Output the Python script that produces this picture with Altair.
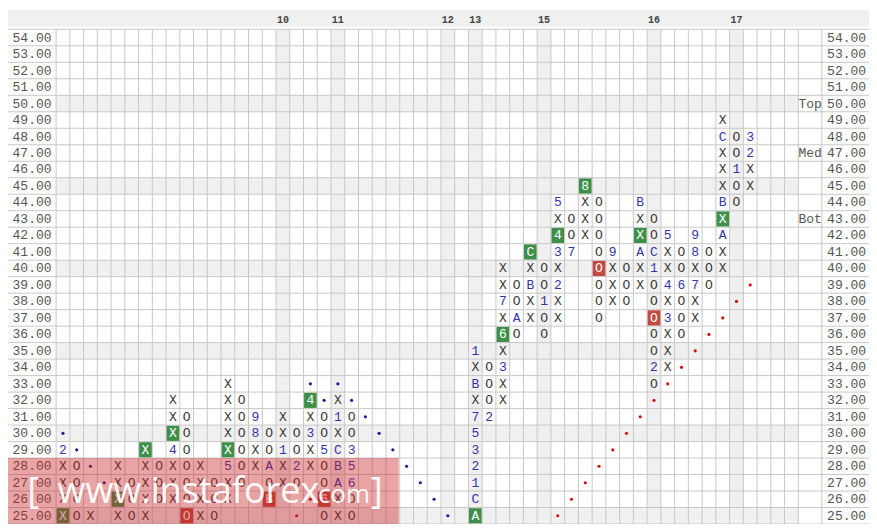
import altair as alt
import pandas as pd

# ---------------- data ----------------
prices = list(range(25, 55))          # price rows 25.00 .. 54.00
n_cols = 54                           # point & figure columns
year_cols = [16, 20, 28, 30, 35, 43, 49]
year_labels = ["10", "11", "12", "13", "15", "16", "17"]
shaded_prices = [25, 30, 35, 40, 45, 50]

# each P&F column: index, lowest price, symbols from bottom to top
col_index = [0, 1, 2, 4, 5, 6, 7, 8, 9, 10, 11, 12, 13, 14, 15, 16, 17, 18, 19, 20, 21,
             30, 31, 32, 33, 34, 35, 36, 37, 38, 39, 40, 41, 42, 43, 44, 45, 46, 47, 48, 49, 50]
col_start = [25, 25, 25, 25, 25, 25, 26, 26, 25, 25, 25, 26, 27, 28, 26, 27, 27, 28, 25, 25, 25,
             25, 31, 32, 36, 37, 36, 37, 41, 42, 37, 38, 38, 39, 33, 34, 36, 37, 39, 40, 44, 45]
col_symbols = ["XXXX2", "OOOO", "X", "XXXX", "OOO", "XXXXX", "OOO", "XXX4XXX", "OOOOOOO",
               "XXXX", "OOO", "XX5XXXXX", "OOOOOO", "XX89", "BOAOO", "XX1XX", "O2OO", "XX3X4",
               "O6OO5OO", "XXABCX1X", "OO653OO",
               "AC12357XBX1", "2OOO", "XX3X6X7XX", "OAOO", "XXBXC", "OO1OO", "XX2X34X5",
               "7OO", "XXX8", "OOOOOOOO", "XXX9", "OOO", "XXAXXB", "O2OOOOO1COO",
               "XXX3X4XX5", "OOO6OO", "XX7X89", "OOO", "XXAXBXXXCX", "OO1OO", "XX23"]

green_box_cols = [0, 4, 6, 8, 12, 18, 30, 32, 34, 36, 38, 42, 48]
green_box_prices = [25, 26, 29, 30, 29, 32, 25, 36, 41, 42, 45, 42, 43]
red_box_cols = [9, 15, 19, 39, 43]
red_box_prices = [25, 26, 26, 40, 37]

blue_dot_cols = [0, 1, 2, 3, 18, 19, 20, 21, 22, 23, 24, 25, 26, 27, 28]
blue_dot_prices = [30, 29, 28, 27, 33, 32, 33, 32, 31, 30, 29, 28, 27, 26, 25]
red_dot_cols = [17, 18, 36, 37, 38, 39, 40, 41, 42, 43, 44, 45, 46, 47, 48, 49, 50]
red_dot_prices = [25, 26, 25, 26, 27, 28, 29, 30, 31, 32, 33, 34, 35, 36, 37, 38, 39]

side_labels = ["Top", "Med", "Bot"]
side_label_prices = [50, 47, 43]

watermark_parts = ["[", "www.instaforex", ".com", "]"]

# ---------------- layout (in column / row units) ----------------
LEFT, RIGHT = -3.5, 59.143
TOPCELL_END = 55.714
Y_BOT, Y_GRID_TOP, Y_TOP = 24.5, 54.5, 55.794

xs = alt.Scale(domain=[LEFT, RIGHT], nice=False, zero=False)
ys = alt.Scale(domain=[Y_BOT, Y_TOP], nice=False, zero=False)

DARK = "#3a3a3a"
BLUE = "#3535a8"
GREEN = "#3f8f4a"
RED = "#c24a40"
GRID = "#c8c8c8"
SHADE = "#f0f0f0"
FONT = "Liberation Mono"

def X(f="x"):
    return alt.X(f"{f}:Q", scale=xs, axis=None)

def Y(f="y"):
    return alt.Y(f"{f}:Q", scale=ys, axis=None)

# header band
header = pd.DataFrame({"x": [LEFT], "x2": [RIGHT], "y": [54.676], "y2": [55.68]})
header_l = alt.Chart(header).mark_rect(color=SHADE).encode(
    x=X(), x2="x2", y=Y(), y2="y2")

# shaded rows and columns
srows = pd.DataFrame({"x": 0, "x2": n_cols,
                      "y": [p - 0.5 for p in shaded_prices], "y2": [p + 0.5 for p in shaded_prices]})
srows_l = alt.Chart(srows).mark_rect(color=SHADE).encode(x=X(), x2="x2", y=Y(), y2="y2")
scols = pd.DataFrame({"x": year_cols, "x2": [c + 1 for c in year_cols],
                      "y": Y_BOT, "y2": Y_GRID_TOP})
scols_l = alt.Chart(scols).mark_rect(color=SHADE).encode(x=X(), x2="x2", y=Y(), y2="y2")

# grid lines
vlines = pd.DataFrame({"x": list(range(0, n_cols + 1)) + [TOPCELL_END], "y": Y_BOT, "y2": Y_GRID_TOP})
vlines_l = alt.Chart(vlines).mark_rule(color=GRID, strokeWidth=1).encode(x=X(), y=Y(), y2="y2")
hlines = pd.DataFrame({"y": [p - 0.5 for p in prices] + [prices[-1] + 0.5], "x": LEFT, "x2": RIGHT})
hlines_l = alt.Chart(hlines).mark_rule(color=GRID, strokeWidth=1).encode(y=Y(), x=X(), x2="x2")

# coloured boxes
boxes = pd.DataFrame({
    "c": green_box_cols + red_box_cols,
    "p": green_box_prices + red_box_prices,
    "fill": [GREEN] * len(green_box_cols) + [RED] * len(red_box_cols),
})
boxes["x"] = boxes["c"] + 0.04
boxes["x2"] = boxes["c"] + 0.96
boxes["y"] = boxes["p"] - 0.46
boxes["y2"] = boxes["p"] + 0.46
boxes_l = alt.Chart(boxes).mark_rect().encode(
    x=X(), x2="x2", y=Y(), y2="y2", color=alt.Color("fill:N", scale=None))

# cell symbols
box_set = set(zip(green_box_cols + red_box_cols, green_box_prices + red_box_prices))
recs = []
for ci, start, sym in zip(col_index, col_start, col_symbols):
    for k, ch in enumerate(sym):
        p = start + k
        if (ci, p) in box_set:
            col = "#ffffff"
        elif ch in "XO":
            col = DARK
        else:
            col = BLUE
        recs.append({"x": ci + 0.5, "y": p, "t": ch, "col": col})
cells = pd.DataFrame(recs)
cells_l = alt.Chart(cells).mark_text(font=FONT, fontSize=13, baseline="middle", align="center").encode(
    x=X(), y=Y(), text="t:N", color=alt.Color("col:N", scale=None))

# trend-line dots
dots = pd.DataFrame({
    "x": [c + 0.5 for c in blue_dot_cols + red_dot_cols],
    "y": blue_dot_prices + red_dot_prices,
    "col": ["#1a1a9a"] * len(blue_dot_cols) + ["#d01010"] * len(red_dot_cols),
})
dots_l = alt.Chart(dots).mark_circle(size=10, opacity=1).encode(
    x=X(), y=Y(), color=alt.Color("col:N", scale=None))

# price labels left and right
lab = pd.DataFrame({"y": prices, "t": [f"{p:.2f}" for p in prices]})
lab["xl"] = LEFT + 0.33
lab["xr"] = TOPCELL_END + 0.38
left_l = alt.Chart(lab).mark_text(font=FONT, fontSize=13, align="left", baseline="middle",
                                   color="#555555").encode(x=X("xl"), y=Y(), text="t:N")
right_l = alt.Chart(lab).mark_text(font=FONT, fontSize=13, align="left", baseline="middle",
                                    color="#555555").encode(x=X("xr"), y=Y(), text="t:N")

# Top / Med / Bot
side = pd.DataFrame({"x": (n_cols + TOPCELL_END) / 2, "y": side_label_prices, "t": side_labels})
side_l = alt.Chart(side).mark_text(font=FONT, fontSize=13, align="center", baseline="middle",
                                    color="#555555").encode(x=X(), y=Y(), text="t:N")

# year labels in header
yl = pd.DataFrame({"x": [c + 0.5 for c in year_cols], "y": 55.06, "t": year_labels})
yl_l = alt.Chart(yl).mark_text(font=FONT, fontSize=10, fontWeight="bold", align="center",
                                baseline="middle", color="#444444").encode(x=X(), y=Y(), text="t:N")

# watermark
wm_rect = pd.DataFrame({"x": [LEFT], "x2": [24.93], "y": [Y_BOT], "y2": [28.5]})
wm_rect_l = alt.Chart(wm_rect).mark_rect(color="#c81e1e", opacity=0.4).encode(
    x=X(), x2="x2", y=Y(), y2="y2")
wm_text = pd.DataFrame({
    "x": [-2.1, 0.1, 18.55, 22.9],
    "y": [25.8, 25.8, 25.8, 25.8],
    "t": watermark_parts,
    "fs": [37, 36, 26, 37],
})
wm_text_l = alt.Chart(wm_text).mark_text(font="Open Sans", align="left", baseline="alphabetic",
                                          color="#ffffff", opacity=0.95).encode(
    x=X(), y=Y(), text="t:N", size=alt.Size("fs:Q", scale=None))

chart = alt.layer(
    header_l, srows_l, scols_l, vlines_l, hlines_l, boxes_l, cells_l, dots_l,
    left_l, right_l, side_l, yl_l, wm_rect_l, wm_text_l,
).properties(
    width=861, height=516, padding=0, autosize="none", background="#ffffff"
).configure_view(stroke=None)

chart.save("out.html", embed_options={"renderer": "svg", "actions": False})
